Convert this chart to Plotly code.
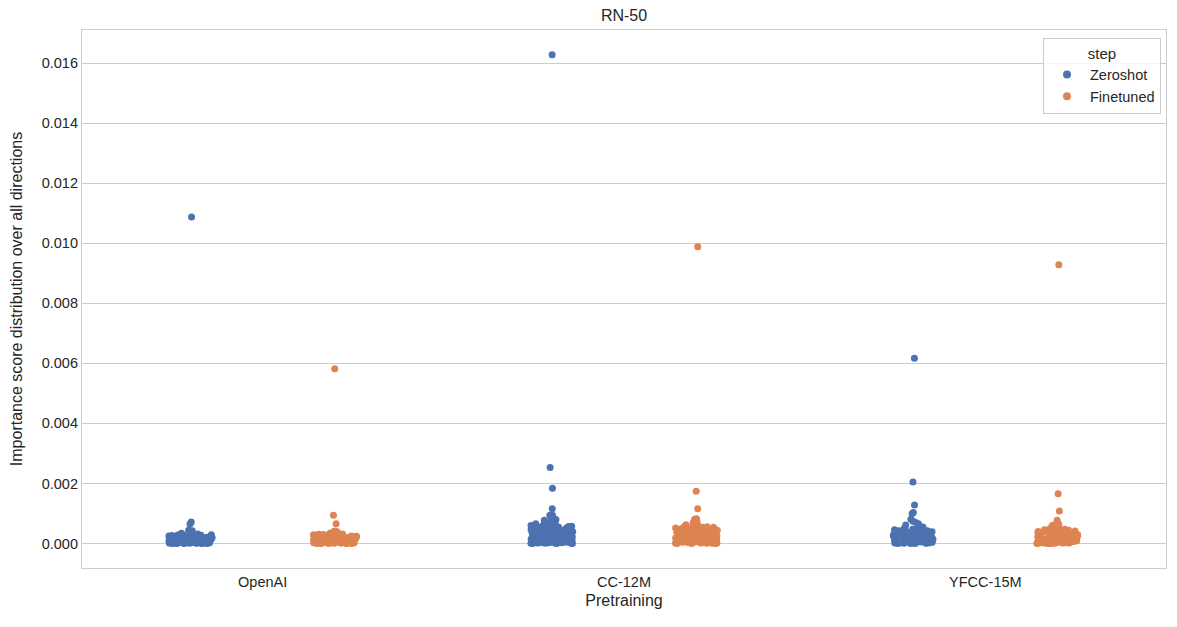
import plotly.graph_objects as go

categories = ["OpenAI", "CC-12M", "YFCC-15M"]
steps = ["Zeroshot", "Finetuned"]
colors = {"Zeroshot": "#4C72B0", "Finetuned": "#DD8452"}

# Importance scores (outliers + estimated bulk)
openai_zeroshot = [0.01087, 0.00072, 0.00065, 0.00043, 0.00044, 0.00036, 0.00034, 0.00032,
                   0.00031, 0.00029, 0.000285, 0.00027, 0.00026, 0.000255, 0.00024, 0.000235,
                   0.00023, 0.00022, 0.00021, 0.000205, 0.00020, 0.00019, 0.00018, 0.000175,
                   0.00017, 0.00016, 0.000155, 0.00015, 0.00014, 0.000135, 0.00013, 0.00012,
                   0.000118, 0.00011, 0.000105, 0.00010, 0.000098, 0.00009, 0.000088, 0.000085,
                   0.00008, 0.000078, 0.000075, 0.00007, 0.000068, 0.000066, 0.00006, 0.000058,
                   0.000056, 0.000055, 0.00005, 0.000048, 0.000046, 0.000045, 0.00004, 0.000038,
                   0.000036, 0.000035, 0.00003, 0.000028, 0.000026, 0.000025, 0.00002, 0.000018,
                   0.000016, 0.000015, 0.00001, 0.000009, 0.000008, 0.000006, 0.000005, 0.000003,
                   0.000002, 0.000001, 0.00030, 0.00028, 0.00025, 0.00022, 0.00019, 0.00016,
                   0.00013, 0.00011, 0.00008, 0.00006, 0.00004, 0.00002, 0.000285, 0.000265,
                   0.000215, 0.000185, 0.000145, 0.000125, 0.000095, 0.000065, 0.000032, 0.000012,
                   0.000295, 0.000245, 0.000195, 0.000155, 0.000115, 0.000072, 0.000042, 0.000022]
openai_finetuned = [0.00582, 0.00094, 0.00066, 0.00040, 0.00042, 0.00039, 0.00036, 0.00034,
                    0.00033, 0.00031, 0.00030, 0.00029, 0.00028, 0.00027, 0.000265, 0.00025,
                    0.000245, 0.00024, 0.00023, 0.00022, 0.00021, 0.000205, 0.00020, 0.00019,
                    0.00018, 0.000175, 0.00017, 0.00016, 0.000155, 0.00015, 0.00014, 0.000135,
                    0.00013, 0.00012, 0.000115, 0.00011, 0.000105, 0.00010, 0.000095, 0.00009,
                    0.000088, 0.000085, 0.00008, 0.000078, 0.000075, 0.00007, 0.000068, 0.000065,
                    0.00006, 0.000058, 0.000055, 0.00005, 0.000048, 0.000046, 0.00004, 0.000038,
                    0.000036, 0.00003, 0.000028, 0.000026, 0.00002, 0.000018, 0.000016, 0.00001,
                    0.000009, 0.000007, 0.000005, 0.000003, 0.000002, 0.000001, 0.00032, 0.00029,
                    0.00026, 0.00023, 0.00020, 0.00017, 0.00014, 0.00012, 0.00009, 0.00007,
                    0.00005, 0.00003, 0.000015, 0.000305, 0.000275, 0.000235, 0.000195, 0.000165,
                    0.000125, 0.000083, 0.000052, 0.000022, 0.000315, 0.000255, 0.000185,
                    0.000145, 0.000105, 0.000062, 0.000033]
cc12m_zeroshot = [0.01628, 0.00253, 0.00184, 0.00116, 0.00094, 0.00094, 0.00081, 0.00080,
                  0.00078, 0.00072, 0.00069, 0.00066, 0.00063, 0.00061, 0.00060, 0.00059,
                  0.00058, 0.00057, 0.00056, 0.00055, 0.00054, 0.00053, 0.00052, 0.00051,
                  0.00050, 0.00049, 0.00048, 0.00047, 0.00046, 0.00045, 0.00044, 0.00043,
                  0.00042, 0.00041, 0.00040, 0.00039, 0.00038, 0.00037, 0.00036, 0.00035,
                  0.00034, 0.00033, 0.00032, 0.00031, 0.00030, 0.00029, 0.00028, 0.00027,
                  0.00026, 0.00025, 0.00024, 0.00023, 0.00022, 0.00021, 0.00020, 0.00019,
                  0.00018, 0.00017, 0.00016, 0.00015, 0.00014, 0.00013, 0.00012, 0.00011,
                  0.00010, 0.000095, 0.00009, 0.000085, 0.00008, 0.000075, 0.00007, 0.000065,
                  0.00006, 0.000055, 0.00005, 0.000045, 0.00004, 0.000035, 0.00003, 0.000025,
                  0.00002, 0.000015, 0.00001, 0.000008, 0.000005, 0.000003, 0.000001,
                  0.00046, 0.00041, 0.00036, 0.00031, 0.00027, 0.00022, 0.00018, 0.00013,
                  0.00009, 0.00006, 0.00003, 0.00058, 0.00053, 0.00049, 0.00044, 0.00039,
                  0.00034, 0.00029, 0.00024, 0.00019, 0.00015, 0.00011, 0.00007, 0.00004,
                  0.00001, 0.000565, 0.000515, 0.000455, 0.000395, 0.000335, 0.000275,
                  0.000215, 0.000165, 0.000105, 0.000052, 0.000012]
cc12m_finetuned = [0.00988, 0.00174, 0.00116, 0.00081, 0.00083, 0.00075, 0.00070, 0.00066,
                   0.00063, 0.00060, 0.00058, 0.00056, 0.00055, 0.00054, 0.00053, 0.00052,
                   0.00051, 0.00050, 0.00049, 0.00048, 0.00047, 0.00046, 0.00045, 0.00044,
                   0.00043, 0.00042, 0.00041, 0.00040, 0.00039, 0.00038, 0.00037, 0.00036,
                   0.00035, 0.00034, 0.00033, 0.00032, 0.00031, 0.00030, 0.00029, 0.00028,
                   0.00027, 0.00026, 0.00025, 0.00024, 0.00023, 0.00022, 0.00021, 0.00020,
                   0.00019, 0.00018, 0.00017, 0.00016, 0.00015, 0.00014, 0.00013, 0.00012,
                   0.00011, 0.00010, 0.000095, 0.00009, 0.000085, 0.00008, 0.000075, 0.00007,
                   0.000065, 0.00006, 0.000055, 0.00005, 0.000045, 0.00004, 0.000035, 0.00003,
                   0.000025, 0.00002, 0.000015, 0.00001, 0.000008, 0.000005, 0.000003, 0.000001,
                   0.00044, 0.00039, 0.00033, 0.00028, 0.00023, 0.00017, 0.00012, 0.00007,
                   0.00004, 0.00002, 0.00054, 0.00050, 0.00045, 0.00041, 0.00036, 0.00031,
                   0.00026, 0.00021, 0.00016, 0.00011, 0.00006, 0.00003, 0.000525, 0.000475,
                   0.000425, 0.000365, 0.000305, 0.000245, 0.000185, 0.000125, 0.000072,
                   0.000018]
yfcc_zeroshot = [0.00617, 0.00205, 0.00128, 0.00103, 0.00100, 0.00081, 0.00074, 0.00070,
                 0.00066, 0.00062, 0.00058, 0.00055, 0.00053, 0.00051, 0.00050, 0.00048,
                 0.00047, 0.00046, 0.00044, 0.00043, 0.00042, 0.00040, 0.00039, 0.00038,
                 0.00037, 0.00036, 0.00035, 0.00034, 0.00033, 0.00032, 0.00031, 0.00030,
                 0.00029, 0.00028, 0.00027, 0.00026, 0.00025, 0.00024, 0.00023, 0.00022,
                 0.00021, 0.00020, 0.00019, 0.00018, 0.00017, 0.00016, 0.00015, 0.00014,
                 0.00013, 0.00012, 0.00011, 0.00010, 0.000095, 0.00009, 0.000085, 0.00008,
                 0.000075, 0.00007, 0.000065, 0.00006, 0.000055, 0.00005, 0.000045, 0.00004,
                 0.000035, 0.00003, 0.000025, 0.00002, 0.000015, 0.00001, 0.000008, 0.000005,
                 0.000003, 0.000001, 0.00034, 0.00029, 0.00024, 0.00019, 0.00014, 0.00009,
                 0.00005, 0.00002, 0.00049, 0.00045, 0.00041, 0.00037, 0.00032, 0.00027,
                 0.00022, 0.00017, 0.00012, 0.00007, 0.00003, 0.000475, 0.000425, 0.000365,
                 0.000305, 0.000245, 0.000185, 0.000125, 0.000065, 0.000015]
yfcc_finetuned = [0.00928, 0.00166, 0.00108, 0.00078, 0.00066, 0.00064, 0.00060, 0.00056,
                  0.00053, 0.00050, 0.00048, 0.00046, 0.00044, 0.00042, 0.00040, 0.00039,
                  0.00038, 0.00036, 0.00035, 0.00034, 0.00033, 0.00032, 0.00031, 0.00030,
                  0.00029, 0.00028, 0.00027, 0.00026, 0.00025, 0.00024, 0.00023, 0.00022,
                  0.00021, 0.00020, 0.00019, 0.00018, 0.00017, 0.00016, 0.00015, 0.00014,
                  0.00013, 0.00012, 0.00011, 0.00010, 0.000095, 0.00009, 0.000085, 0.00008,
                  0.000075, 0.00007, 0.000065, 0.00006, 0.000055, 0.00005, 0.000045, 0.00004,
                  0.000035, 0.00003, 0.000025, 0.00002, 0.000015, 0.00001, 0.000008, 0.000005,
                  0.000003, 0.000001, 0.00027, 0.00022, 0.00017, 0.00012, 0.00008, 0.00004,
                  0.00002, 0.00045, 0.00041, 0.00037, 0.00033, 0.00029, 0.00025, 0.00021,
                  0.00016, 0.00011, 0.00007, 0.00003, 0.000435, 0.000385, 0.000315, 0.000255,
                  0.000195, 0.000135, 0.000085, 0.000035, 0.000012]

data = {
    "Zeroshot": [openai_zeroshot, cc12m_zeroshot, yfcc_zeroshot],
    "Finetuned": [openai_finetuned, cc12m_finetuned, yfcc_finetuned],
}

FONT = "Liberation Sans, Arial, sans-serif"
TXT = "#262626"
GRID = "#cccccc"

# page body has an 8px margin; figure is sized to fit the 1177x627 window
W, H = 1169, 619

fig = go.Figure()
for step in steps:
    xs, ys = [], []
    for cat, vals in zip(categories, data[step]):
        xs += [cat] * len(vals)
        ys += vals
    fig.add_trace(go.Box(
        x=xs, y=ys, name=step, boxpoints="all", jitter=0.3, pointpos=0,
        fillcolor="rgba(0,0,0,0)", line=dict(color="rgba(0,0,0,0)", width=0),
        marker=dict(color=colors[step], size=7, line=dict(width=0)),
        showlegend=False, hoveron="points",
    ))
    fig.add_trace(go.Scatter(
        x=[None], y=[None], mode="markers", name=step,
        marker=dict(color=colors[step], size=8),
    ))

fig.update_layout(
    width=W, height=H,
    margin=dict(l=74, r=11, t=22, b=59, autoexpand=False),
    paper_bgcolor="white", plot_bgcolor="white",
    boxmode="group", boxgap=0.2, boxgroupgap=0,
    font=dict(family=FONT, color=TXT, size=14),
    title=dict(text="RN-50", x=0.5, xref="paper", xanchor="center",
               yref="container", y=1 - 7 / H, yanchor="middle",
               font=dict(size=16, color=TXT)),
    legend=dict(
        title=dict(text="step", side="top center", font=dict(size=15)),
        x=0.9954, xanchor="right", y=0.985, yanchor="top",
        bgcolor="rgba(255,255,255,0.8)", bordercolor=GRID, borderwidth=1,
        font=dict(size=14.5), itemwidth=36, tracegroupgap=0,
    ),
)
fig.update_xaxes(
    type="category", categoryorder="array", categoryarray=categories,
    range=[-0.5, 2.5], showgrid=False, showline=True, mirror=True,
    linecolor=GRID, linewidth=1.2, ticks="", automargin=False,
    title=dict(text="Pretraining", font=dict(size=16), standoff=6),
    tickfont=dict(size=14.5),
)
fig.update_yaxes(
    range=[-0.000814, 0.01710], dtick=0.002, tick0=0, tickformat=".3f",
    showgrid=True, gridcolor=GRID, gridwidth=1.2, zeroline=False,
    showline=True, mirror=True, linecolor=GRID, linewidth=1.2, ticks="",
    automargin=False,
    title=dict(text="Importance score distribution over all directions",
               font=dict(size=16), standoff=16),
    tickfont=dict(size=14.5),
)

fig.write_html("out.html")
